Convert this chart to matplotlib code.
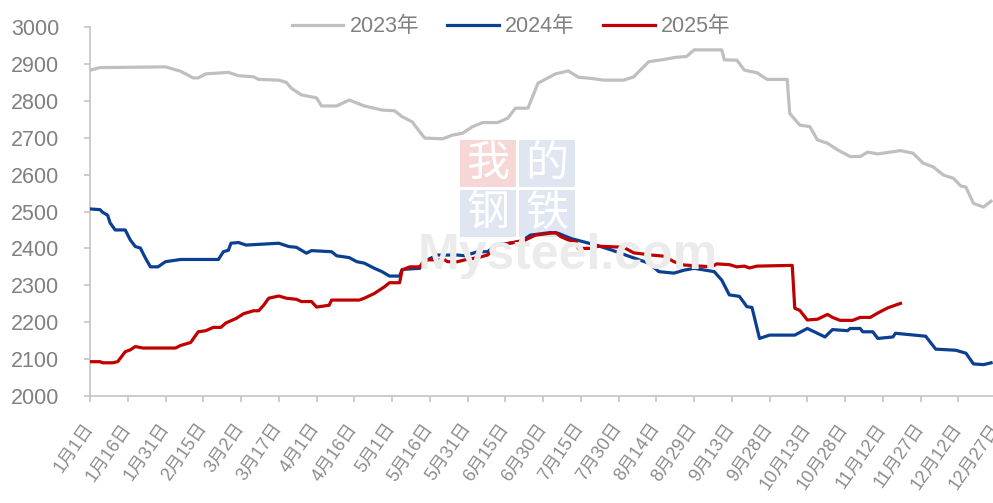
import matplotlib
matplotlib.use("Agg")
import matplotlib.pyplot as plt
from matplotlib.patches import Rectangle

# day of year (0 = 1月1日) and price
days_2023 = [0, 4, 30, 36, 41, 43, 46, 55, 59, 65, 67, 75, 78, 80, 84, 90, 92, 98, 103, 109,
             116, 121, 124, 128, 131, 133, 140, 144, 148, 152, 156, 162, 166, 169, 174, 178,
             185, 190, 194, 200, 204, 212, 216, 222, 227, 233, 237, 240, 251, 252, 257, 260,
             265, 269, 277, 278, 282, 286, 289, 293, 297, 302, 306, 309, 313, 322, 327, 331,
             335, 339, 343, 346, 348, 351, 355, 358]
vals_2023 = [2883, 2890, 2892, 2880, 2862, 2862, 2873, 2877, 2868, 2865, 2858, 2856, 2850,
             2834, 2816, 2808, 2786, 2786, 2802, 2786, 2775, 2773, 2757, 2743, 2716, 2699,
             2697, 2707, 2712, 2730, 2741, 2741, 2753, 2780, 2780, 2848, 2873, 2881, 2864,
             2860, 2856, 2856, 2865, 2906, 2911, 2918, 2920, 2938, 2938, 2911, 2910, 2883,
             2876, 2858, 2858, 2766, 2734, 2730, 2694, 2685, 2667, 2649, 2649, 2661, 2656,
             2665, 2658, 2631, 2621, 2599, 2590, 2569, 2566, 2522, 2512, 2528]

days_2024 = [0, 4, 5, 7, 8, 10, 14, 16, 18, 20, 22, 24, 27, 30, 36, 51, 53, 55, 56, 59, 62,
             75, 79, 82, 86, 88, 96, 98, 103, 106, 109, 113, 116, 119, 123, 124, 131, 134,
             138, 146, 149, 154, 158, 161, 171, 175, 183, 186, 191, 196, 201, 207, 214, 222,
             226, 232, 236, 240, 248, 251, 254, 258, 261, 263, 266, 270, 280, 285, 289, 292,
             295, 301, 302, 306, 307, 311, 313, 319, 320, 332, 336, 344, 348, 351, 355, 358]
vals_2024 = [2507, 2505, 2498, 2490, 2469, 2450, 2450, 2423, 2405, 2401, 2374, 2350, 2350,
             2364, 2370, 2370, 2391, 2395, 2414, 2416, 2409, 2414, 2405, 2403, 2387, 2394,
             2391, 2380, 2375, 2364, 2360, 2346, 2337, 2325, 2325, 2343, 2346, 2369, 2382,
             2382, 2380, 2391, 2391, 2409, 2418, 2436, 2443, 2441, 2427, 2418, 2409, 2396,
             2379, 2360, 2337, 2333, 2341, 2346, 2337, 2314, 2274, 2270, 2242, 2240, 2156,
             2165, 2165, 2183, 2170, 2160, 2180, 2177, 2183, 2183, 2174, 2174, 2156, 2160,
             2170, 2162, 2127, 2124, 2116, 2087, 2085, 2090]

days_2025 = [0, 4, 5, 9, 11, 14, 16, 18, 21, 34, 36, 40, 43, 46, 49, 52, 54, 58, 61, 65, 67,
             69, 71, 75, 78, 82, 84, 88, 90, 95, 96, 107, 109, 113, 117, 119, 123, 124, 127,
             131, 133, 141, 142, 146, 149, 154, 158, 161, 166, 173, 177, 185, 187, 190, 193,
             194, 199, 202, 212, 216, 223, 228, 232, 236, 247, 249, 254, 257, 260, 262, 265,
             279, 280, 282, 285, 289, 293, 295, 298, 303, 306, 310, 313, 317, 322]
vals_2025 = [2093, 2093, 2090, 2090, 2093, 2120, 2125, 2134, 2130, 2130, 2137, 2145, 2174,
             2177, 2186, 2186, 2198, 2210, 2223, 2231, 2231, 2246, 2265, 2271, 2265, 2262,
             2256, 2256, 2241, 2246, 2260, 2260, 2265, 2278, 2296, 2307, 2307, 2341, 2350,
             2350, 2369, 2369, 2364, 2364, 2369, 2375, 2382, 2409, 2413, 2423, 2436, 2443,
             2432, 2423, 2418, 2400, 2400, 2406, 2403, 2388, 2382, 2379, 2364, 2355, 2350,
             2358, 2356, 2350, 2352, 2347, 2352, 2354, 2238, 2232, 2206, 2208, 2221, 2213,
             2205, 2205, 2213, 2213, 2225, 2239, 2251]

tick_days = list(range(0, 361, 15))
tick_labels = ['1月1日', '1月16日', '1月31日', '2月15日', '3月2日', '3月17日', '4月1日',
               '4月16日', '5月1日', '5月16日', '5月31日', '6月15日', '6月30日', '7月15日',
               '7月30日', '8月14日', '8月29日', '9月13日', '9月28日', '10月13日', '10月28日',
               '11月12日', '11月27日', '12月12日', '12月27日']

plt.rcParams['font.family'] = ['Liberation Sans', 'Noto Sans CJK SC', 'DejaVu Sans']
txt_gray = '#808080'
axis_gray = '#c4c4c4'

W, H = 993, 503
fig = plt.figure(figsize=(W / 100, H / 100), dpi=100)

def fx(px):
    return px / W

def fy(py):
    return 1 - py / H

# axes: left spine at x=90, y 3000 at 27px, 2000 at 396px, 2.517 px per day
ax_w = 365 * 2.517
ax = fig.add_axes([fx(90), fy(396), fx(ax_w), (396 - 27) / H])

# watermark
wm = [('我', 460, 140, '#f7d6d6'), ('的', 519, 140, '#dfe6f1'),
      ('钢', 460, 190, '#dfe6f1'), ('铁', 519, 190, '#dfe6f1')]
for ch, px, py, bg in wm:
    fig.add_artist(Rectangle((fx(px), fy(py + 47)), fx(56), 47 / H,
                             facecolor=bg, edgecolor='none', zorder=0))
    fig.text(fx(px + 28), fy(py + 24), ch, ha='center', va='center', fontsize=31,
             color='white', family='Noto Sans CJK SC', zorder=0.5)
fig.text(fx(418), fy(256), 'Mysteel.com', ha='left', va='center', fontsize=36,
         color='#ebebeb', fontweight='bold', zorder=0.5)
ax.set_facecolor('none')
fig.patch.set_facecolor('white')

ax.plot(days_2023, vals_2023, color='#bfbfbf', lw=2.3, label='2023年', zorder=3)
ax.plot(days_2024, vals_2024, color='#0b3f91', lw=2.3, label='2024年', zorder=4)
ax.plot(days_2025, vals_2025, color='#c00000', lw=2.3, label='2025年', zorder=5)

ax.set_xlim(0, 365)
ax.set_ylim(2000, 3000)
ax.set_yticks(range(2000, 3001, 100))
ax.set_xticks(tick_days)
ax.set_xticklabels(tick_labels, rotation=55, ha='right', va='center',
                   rotation_mode='anchor')

for s in ['top', 'right']:
    ax.spines[s].set_visible(False)
for s in ['left', 'bottom']:
    ax.spines[s].set_color(axis_gray)
    ax.spines[s].set_linewidth(1.2)
ax.tick_params(axis='both', colors=axis_gray, length=4, width=1.2, direction='out')
ax.tick_params(axis='y', labelcolor=txt_gray, labelsize=15.5, pad=18)
ax.tick_params(axis='x', labelcolor='#8c8c8c', labelsize=13, pad=17)

leg = ax.legend(loc='center', bbox_to_anchor=((511 - 90) / ax_w, 1.0),
                ncol=3, frameon=False, fontsize=15.5, handlelength=2.4, handletextpad=0.3,
                columnspacing=1.3, labelcolor=txt_gray)
leg.set_zorder(6)

fig.savefig('out.png', dpi=100)
